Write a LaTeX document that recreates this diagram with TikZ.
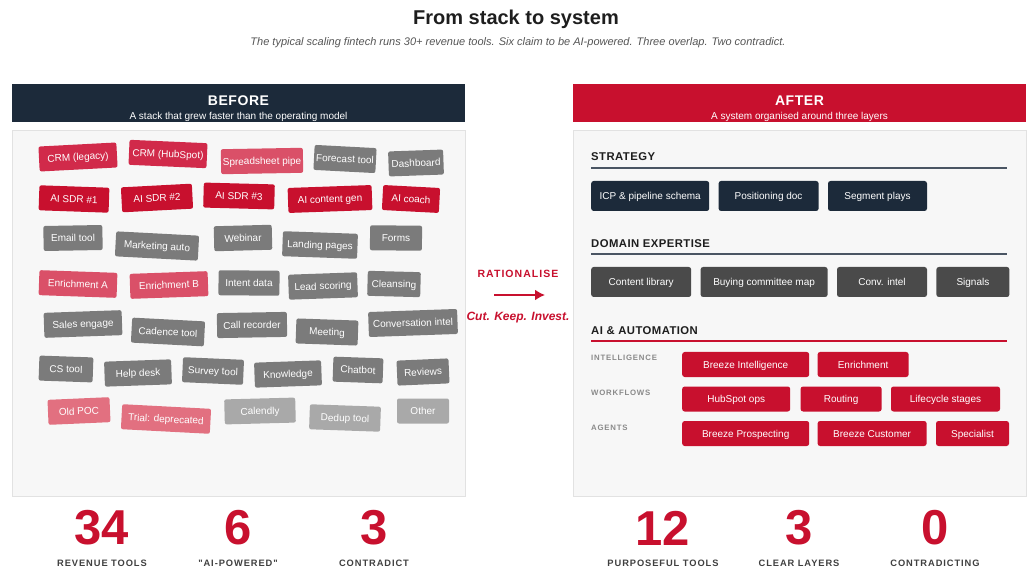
\documentclass[tikz,border=0pt]{standalone}
\usepackage{fontspec}
\setmainfont{Liberation Sans}
\newfontfamily\trackfont[LetterSpace=4]{Liberation Sans}
\newfontfamily\widefont[LetterSpace=10]{Liberation Sans}
\usetikzlibrary{arrows.meta,positioning}
\definecolor{SysNavy}{HTML}{1C2A3A}
\definecolor{SysRed}{HTML}{C8102E}
\definecolor{SysText}{HTML}{1E1E1E}
\definecolor{SysMuted}{HTML}{555555}
\definecolor{SysLabel}{HTML}{8A8A8A}
\definecolor{SysPanel}{HTML}{F7F7F7}
\definecolor{SysBorder}{HTML}{E2E2E2}
\definecolor{SysRule}{HTML}{4A5563}
\definecolor{SysDomain}{HTML}{4A4A4A}
\definecolor{tagRed}{HTML}{C8102E}
\definecolor{tagCrm}{HTML}{D12A4A}
\definecolor{tagPink}{HTML}{DA5068}
\definecolor{tagFade}{HTML}{E27080}
\definecolor{tagGrey}{HTML}{7B7B7B}
\definecolor{tagLight}{HTML}{A9A9A9}

\begin{document}
\begin{tikzpicture}[
  x=1pt,y=-1pt,>=Latex,
  headline/.style={font=\bfseries\fontsize{20}{24}\selectfont,text=SysText},
  lede/.style={font=\itshape\fontsize{11}{13}\selectfont,text=SysMuted},
  banner/.style={font=\trackfont\bfseries\fontsize{14}{16}\selectfont,text=white},
  bannersub/.style={font=\fontsize{10}{12}\selectfont,text=white},
  panel/.style={fill=SysPanel,draw=SysBorder,line width=0.8pt},
  tag/.style={rounded corners=2pt,text=white,minimum height=25pt,inner sep=0pt,text height=7.2pt,text depth=0pt,font=\fontsize{10}{12}\selectfont},
  block/.style={rounded corners=2.5pt,text=white,anchor=west,minimum height=30pt,inner sep=0pt,text height=7.2pt,text depth=0pt,font=\fontsize{10}{12}\selectfont},
  chip/.style={block,fill=SysRed,minimum height=25pt},
  layer/.style={anchor=west,inner sep=0pt,font=\trackfont\bfseries\fontsize{11.3}{13}\selectfont,text=SysText},
  sublayer/.style={anchor=west,inner sep=0pt,font=\widefont\bfseries\fontsize{7.8}{9}\selectfont,text=SysLabel},
  rule/.style={line width=1.5pt},
  bignum/.style={font=\bfseries\fontsize{49}{52}\selectfont,text=SysRed},
  numlabel/.style={font=\widefont\bfseries\fontsize{9.3}{11}\selectfont,text=SysText!85}
]
\useasboundingbox[fill=white] (0,0) rectangle (1031,569);

% Title.
\node[headline] (title) at (516,19) {From stack to system};
\node[lede] (lede) at (518,43) {The typical scaling fintech runs 30+ revenue tools. Six claim to be AI-powered. Three overlap. Two contradict.};

% Before.
\fill[SysNavy] (12,84) rectangle (465,122);
\node[banner] (before) at (238.5,101) {BEFORE};
\node[bannersub] (beforesub) at (238.5,117) {A stack that grew faster than the operating model};
\draw[panel] (12,130) rectangle (465,496);

\foreach \px/\py/\ang/\tw/\col/\txt [count=\i] in {
  78/157/3/78/tagCrm/CRM (legacy),
  168/154/-2.5/78/tagCrm/CRM (HubSpot),
  262/161/1/82/tagPink/Spreadsheet pipe,
  345/159/-3/62/tagGrey/Forecast tool,
  416/163/2/55/tagGrey/Dashboard,
  74/199/-2/70/tagRed/AI SDR \#1,
  157/198/3/71/tagRed/AI SDR \#2,
  239/196/-1.5/71/tagRed/AI SDR \#3,
  330/199/2/84/tagRed/AI content gen,
  411/199/-3/57/tagRed/AI coach,
  73/238/1/59/tagGrey/Email tool,
  157/246/-3/83/tagGrey/Marketing auto,
  243/238/1.5/58/tagGrey/Webinar,
  320/245/-2/75/tagGrey/Landing pages,
  396/238/-0.5/52/tagGrey/Forms,
  78/284/-2/78/tagPink/Enrichment A,
  169/285/2/78/tagPink/Enrichment B,
  249/283/-0.5/61/tagGrey/Intent data,
  323/286/2/69/tagGrey/Lead scoring,
  394/284/-1.5/53/tagGrey/Cleansing,
  83/324/2/78/tagGrey/Sales engage,
  168/332/-3/73/tagGrey/Cadence tool,
  252/325/1/70/tagGrey/Call recorder,
  327/332/-2/62/tagGrey/Meeting,
  413/323/2/89/tagGrey/Conversation intel,
  66/369/-2/54/tagGrey/CS tool,
  138/373/2/67/tagGrey/Help desk,
  213/371/-2.5/61/tagGrey/Survey tool,
  288/374/2/67/tagGrey/Knowledge,
  358/370/-2/50/tagGrey/Chatbot,
  423/372/2.5/52/tagGrey/Reviews,
  79/411/2.5/62/tagFade/Old POC,
  166/419/-3/89/tagFade/Trial: deprecated,
  260/411/1.5/71/tagLight/Calendly,
  345/418/-2/71/tagLight/Dedup tool,
  423/411/0/52/tagLight/Other}{
  \node[tag,fill=\col,minimum width=\tw pt,rotate=\ang] (t\i) at (\px,\py) {\txt};
}

% Rationalise.
\node[font=\widefont\bfseries\fontsize{10.5}{12}\selectfont,text=SysRed] (rat) at (518,274) {RATIONALISE};
\coordinate (ra) at (494,295);
\coordinate (rb) at (545,295);
\draw[SysRed,line width=2.6pt,-{Latex[length=10pt,width=11pt]}] (ra) -- (rb);
\node[font=\bfseries\itshape\fontsize{12}{14}\selectfont,text=SysRed] (ckl) at (518,318) {Cut. Keep. Invest.};

% After.
\fill[SysRed] (573,84) rectangle (1026,122);
\node[banner] (after) at (799.5,101) {AFTER};
\node[bannersub] (aftersub) at (799.5,117) {A system organised around three layers};
\draw[panel] (573,130) rectangle (1026,496);

% Strategy.
\node[layer] (lstrat) at (591,157) {STRATEGY};
\draw[rule,SysRule] (591,168) -- (1007,168);
\node[block,fill=SysNavy,minimum width=118pt] (s1) at (591,196) {ICP \& pipeline schema};
\node[block,fill=SysNavy,minimum width=100pt,right=9pt of s1] (s2) {Positioning doc};
\node[block,fill=SysNavy,minimum width=99pt,right=9pt of s2] (s3) {Segment plays};

% Domain expertise.
\node[layer] (ldom) at (591,244) {DOMAIN EXPERTISE};
\draw[rule,SysRule] (591,254) -- (1007,254);
\node[block,fill=SysDomain,minimum width=100pt] (d1) at (591,282) {Content library};
\node[block,fill=SysDomain,minimum width=127pt,right=9pt of d1] (d2) {Buying committee map};
\node[block,fill=SysDomain,minimum width=90pt,right=9pt of d2] (d3) {Conv. intel};
\node[block,fill=SysDomain,minimum width=73pt,right=9pt of d3] (d4) {Signals};

% AI & automation.
\node[layer] (lai) at (591,330.5) {AI \& AUTOMATION};
\draw[rule,SysRed] (591,341) -- (1007,341);
\node[sublayer] (lint) at (591,358) {INTELLIGENCE};
\node[sublayer] (lwf) at (591,393) {WORKFLOWS};
\node[sublayer] (lag) at (591,428) {AGENTS};
\node[chip,minimum width=127pt] (a1) at (682,364.5) {Breeze Intelligence};
\node[chip,minimum width=91pt,right=8pt of a1] (a2) {Enrichment};
\node[chip,minimum width=108pt] (w1) at (682,399) {HubSpot ops};
\node[chip,minimum width=81pt,right=10pt of w1] (w2) {Routing};
\node[chip,minimum width=109pt,right=9pt of w2] (w3) {Lifecycle stages};
\node[chip,minimum width=127pt] (g1) at (682,433.5) {Breeze Prospecting};
\node[chip,minimum width=109pt,right=8pt of g1] (g2) {Breeze Customer};
\node[chip,minimum width=73pt,right=9pt of g2] (g3) {Specialist};

% Counts.
\foreach \cx/\num/\lab [count=\i] in {102/34/REVENUE TOOLS,238/6/"AI-POWERED",374/3/CONTRADICT,
    663/12/PURPOSEFUL TOOLS,799/3/CLEAR LAYERS,935/0/CONTRADICTING}{
  \node[bignum] (n\i) at (\cx,528) {\num};
  \node[numlabel] (l\i) at (\cx,563) {\lab};
}
\end{tikzpicture}
\end{document}
